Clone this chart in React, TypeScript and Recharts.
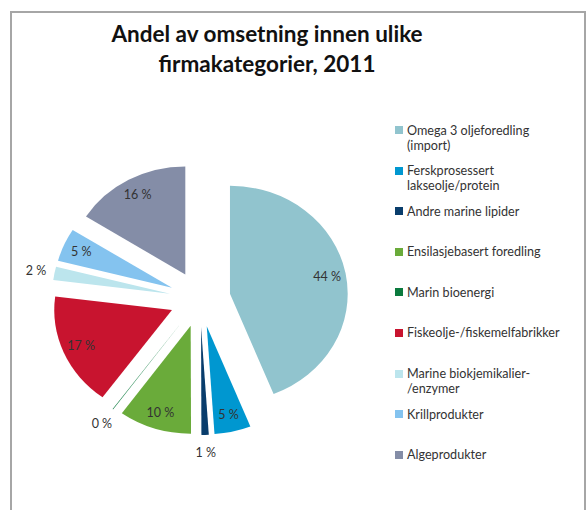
import { Legend, Pie, PieChart, Sector } from "recharts";

const categories = [
  "Omega 3 oljeforedling (import)",
  "Ferskprosessert lakseolje/protein",
  "Andre marine lipider",
  "Ensilasjebasert foredling",
  "Marin bioenergi",
  "Fiskeolje-/fiskemelfabrikker",
  "Marine biokjemikalier-\u200B/enzymer",
  "Krillprodukter",
  "Algeprodukter",
];

// share of turnover, percent
const shares = [44, 5, 1, 10, 0.1, 17, 2, 5, 16];

const colors = [
  "#91c4ce",
  "#0097d0",
  "#093d6c",
  "#6aab3a",
  "#0b7a3e",
  "#c8142f",
  "#bce5ed",
  "#84c3ef",
  "#848da7",
];

const data = categories.map((name, i) => ({ name, value: shares[i], fill: colors[i] }));

const EXPLODE = 28;
const STRETCH = 1.09; // original picture is a bit wider than tall

function ExplodedSlice(props: any) {
  const { cx, cy, midAngle } = props;
  const rad = (-midAngle * Math.PI) / 180;
  return (
    <g transform={`translate(${cx} 0) scale(${STRETCH} 1) translate(${-cx} 0)`}>
      <Sector
        {...props}
        cx={cx + Math.cos(rad) * EXPLODE}
        cy={cy + Math.sin(rad) * EXPLODE}
        stroke="none"
      />
    </g>
  );
}

function SliceLabel(props: any) {
  const { cx, cy, midAngle, outerRadius, value } = props;
  const rad = (-midAngle * Math.PI) / 180;
  const dist = EXPLODE + outerRadius * (value < 3 ? 1.16 : 0.84);
  return (
    <text
      x={cx + Math.cos(rad) * dist * STRETCH}
      y={cy + Math.sin(rad) * dist}
      textAnchor="middle"
      dominantBaseline="central"
      fill="#333"
      fontSize={12.5}
      fontFamily="Lato, sans-serif"
    >
      {Math.round(value)} %
    </text>
  );
}

// keep the legend in data order (recharts sorts it by name otherwise)
function LegendList() {
  return (
    <div style={{ fontFamily: "Lato, sans-serif", fontSize: 12.6, color: "#333" }}>
      {categories.map((name, i) => (
        <div key={name} style={{ display: "flex", height: 40.6, alignItems: "flex-start" }}>
          <span
            style={{
              width: 8,
              height: 8,
              background: colors[i],
              marginTop: 3.5,
              marginRight: 4,
              flexShrink: 0,
            }}
          />
          <span style={{ lineHeight: "15px" }}>{name}</span>
        </div>
      ))}
    </div>
  );
}

export default function App() {
  return (
    <div style={{ position: "absolute", left: 0, top: 0, width: 587, height: 510, background: "#fff", overflow: "hidden" }}>
      <div
        style={{
          position: "absolute",
          left: 10,
          top: 11,
          width: 572,
          height: 520,
          border: "2px solid #a6a6a6",
          borderBottom: "none",
        }}
      />
      <div
        style={{
          position: "absolute",
          left: 67,
          top: 18.5,
          width: 400,
          textAlign: "center",
          fontFamily: "Lato, sans-serif",
          fontWeight: 700,
          fontSize: 22.5,
          lineHeight: "30.6px",
          color: "#111",
        }}
      >
        Andel av omsetning innen ulike
        <br />
        firmakategorier, 2011
      </div>
      <div style={{ position: "absolute", left: 0, top: 0 }}>
        <PieChart width={587} height={510} margin={{ top: 0, right: 0, bottom: 0, left: 0 }}>
          <Pie
            data={data}
            dataKey="value"
            nameKey="name"
            cx={200}
            cy={299}
            outerRadius={108}
            startAngle={90}
            endAngle={-270}
            stroke="none"
            shape={ExplodedSlice}
            label={SliceLabel}
            labelLine={false}
            isAnimationActive={false}
          />
          <Legend
            layout="vertical"
            content={LegendList}
            wrapperStyle={{ left: 395, top: 122.5, width: 180, bottom: "auto", right: "auto" }}
          />
        </PieChart>
      </div>
    </div>
  );
}
